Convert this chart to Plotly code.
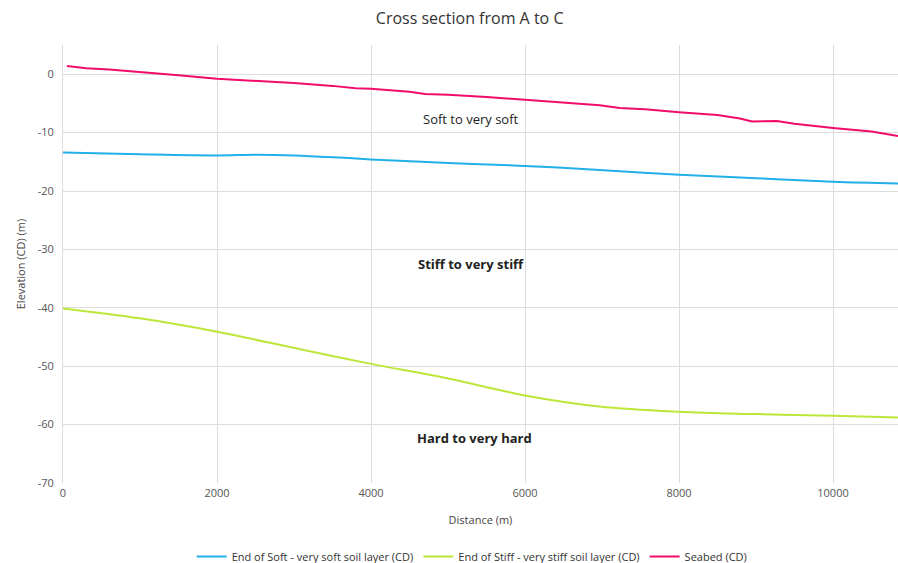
import plotly.graph_objects as go

# Distances (m)
seabed_x = [50, 300, 600, 700, 1000, 1500, 2000, 2500, 3000, 3500, 3800, 4000, 4500, 4700,
            5000, 5500, 6000, 6500, 6970, 7230, 7560, 8000, 8500, 8790, 8950, 9270, 9500,
            10000, 10500, 10844]
seabed_y = [1.4, 1.0, 0.8, 0.7, 0.3, -0.2, -0.8, -1.1, -1.5, -2.0, -2.4, -2.5, -3.0, -3.4,
            -3.5, -3.9, -4.4, -4.8, -5.3, -5.8, -6.0, -6.5, -7.0, -7.6, -8.1, -8.0, -8.5,
            -9.2, -9.8, -10.6]

soft_x = [0, 1000, 2000, 2500, 3000, 3500, 4000, 5000, 6000, 6970, 8000, 9000, 10000, 10844]
soft_y = [-13.4, -13.7, -13.9, -13.8, -13.9, -14.2, -14.6, -15.2, -15.7, -16.4, -17.2, -17.8, -18.4, -18.7]

stiff_x = [0, 1000, 2000, 3080, 4000, 5000, 6000, 6970, 8000, 9000, 10000, 10844]
stiff_y = [-40.1, -41.8, -44.1, -47.1, -49.6, -52.1, -55.0, -56.9, -57.8, -58.2, -58.5, -58.8]

x_ticks = [0, 2000, 4000, 6000, 8000, 10000]
y_ticks = [0, -10, -20, -30, -40, -50, -60, -70]

labels = ["Soft to very soft", "Stiff to very stiff", "Hard to very hard"]
label_x = [5300, 5300, 5350]
label_y = [-7.6, -32.5, -62.3]
label_bold = [False, True, True]

fig = go.Figure()
fig.add_trace(go.Scatter(x=soft_x, y=soft_y, mode="lines", name="End of Soft - very soft soil layer (CD)",
                         line=dict(color="#22b0ea", width=2, shape="spline")))
fig.add_trace(go.Scatter(x=stiff_x, y=stiff_y, mode="lines", name="End of Stiff - very stiff soil layer (CD)",
                         line=dict(color="#bde63a", width=2, shape="spline")))
fig.add_trace(go.Scatter(x=seabed_x, y=seabed_y, mode="lines", name="Seabed (CD)",
                         line=dict(color="#f20c6a", width=2)))

for t, xx, yy, b in zip(labels, label_x, label_y, label_bold):
    fig.add_annotation(x=xx, y=yy, text=f"<b>{t}</b>" if b else t, showarrow=False,
                       font=dict(size=13, color="#222222", family="Open Sans"))

fig.update_layout(
    width=898, height=563,
    paper_bgcolor="white", plot_bgcolor="white",
    margin=dict(l=63, r=0, t=45, b=80, autoexpand=False),
    title=dict(text="Cross section from A to C", x=0.523, xanchor="center",
               yref="container", y=0.968, yanchor="middle",
               font=dict(size=16, color="#333333", family="Open Sans")),
    font=dict(family="Open Sans", color="#555555", size=11),
    showlegend=True,
    legend=dict(orientation="h", x=0.49, xanchor="center", yref="paper", y=-0.168, yanchor="middle",
                font=dict(size=11, color="#333333"), itemwidth=30, traceorder="normal"),
)
fig.update_xaxes(range=[0, 10844], tickvals=x_ticks, ticktext=[str(v) for v in x_ticks],
                 showgrid=True, gridcolor="#dcdcdc", automargin=False,
                 zeroline=False, showline=False, ticks="", ticklabelstandoff=2,
                 title=dict(text="Distance (m)", font=dict(size=11, color="#444444"), standoff=17))
fig.update_yaxes(range=[-70, 5], tickvals=y_ticks, ticktext=[str(v) for v in y_ticks], showgrid=True,
                 gridcolor="#dcdcdc", zeroline=False, showline=True, linecolor="#dcdcdc", automargin=False,
                 ticks="", ticklabelstandoff=6,
                 title=dict(text="Elevation (CD) (m)", font=dict(size=11, color="#444444"), standoff=9))

fig.write_html("out.html", config={"displayModeBar": False},
               post_script="document.body.style.margin='0';")
